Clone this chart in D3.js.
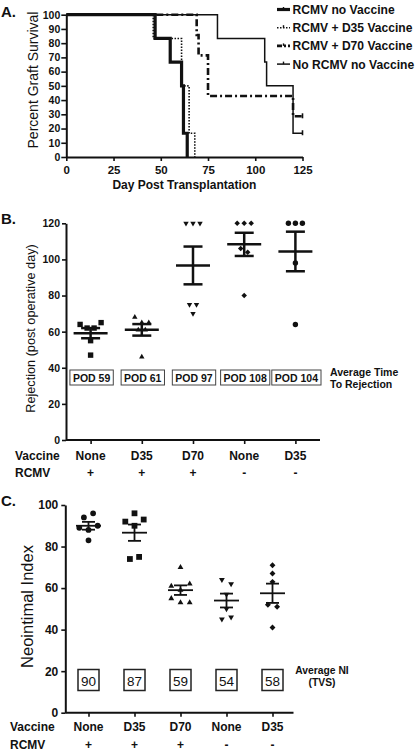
<!DOCTYPE html>
<html>
<head>
<meta charset="utf-8">
<script src="https://cdn.jsdelivr.net/npm/d3@7"></script>
<style>
  html, body { margin: 0; padding: 0; background: #fff; }
  svg { display: block; font-family: "Liberation Sans", Arial, Helvetica, sans-serif; }
</style>
</head>
<body>
<svg id="chart" width="417" height="753"></svg>
<script>
// ---------------- DATA ----------------
// Panel A: Kaplan-Meier steps [day, percent surviving]
const legendLabels = ["RCMV no Vaccine", "RCMV + D35 Vaccine", "RCMV + D70 Vaccine", "No RCMV no Vaccine"];
const kmRcmvNoVaccine = [[0,100],[47,83.3],[55,66.7],[61,50],[62,16.7],[64,0]];
const kmRcmvD35 = [[0,100],[46,83.3],[61,50],[65,16.7],[68,0]];
const kmRcmvD70 = [[0,100],[69,85.7],[70,71.4],[75,42.9],[120,28.6],[125,28.6]];
const kmNoRcmv = [[0,100],[80,83.3],[105,66.7],[106,50],[120,16.7],[125,16.7]];
const kmXTicks = [0,25,50,75,100,125];
const kmYTicks = [0,10,20,30,40,50,60,70,80,90,100];

// Shared categories for panels B and C
const vaccineLabels = ["None","D35","D70","None","D35"];
const rcmvLabels = ["+","+","+","-","-"];

// Panel B: rejection day per graft
const bRcmvNone = [64,62,62,65,55,47];
const bRcmvD35 = [68,65,65,61,61,46];
const bRcmvD70 = [120,120,120,75,75,70];
const bNoRcmvNone = [120,120,120,106,104,80];
const bNoRcmvD35 = [120,120,120,98,64];
const podLabels = ["POD 59","POD 61","POD 97","POD 108","POD 104"];
const bYTicks = [0,20,40,60,80,100,120];

// Panel C: neointimal index
const cRcmvNone = [94,96,89,88,90,83];
const cRcmvD35 = [96,92,90,93,74,75];
const cRcmvD70 = [70,61,59,62,55,53,53];
const cNoRcmvNone = [64,62,57,50,45,46];
const cNoRcmvD35 = [71,67,63,52,51,41];
const niLabels = ["90","87","59","54","58"];
const cYTicks = [0,20,40,60,80,100];

// ---------------- DRAWING ----------------
const svg = d3.select("#chart");
const INK = "#111";

function styleAxis(g, fontSize) {
  g.selectAll("path.domain").attr("stroke", INK).attr("stroke-width", 2);
  g.selectAll(".tick line").attr("stroke", INK).attr("stroke-width", 1.6);
  g.selectAll(".tick text").attr("fill", INK).attr("font-size", fontSize)
    .attr("font-weight", "bold").attr("font-family", "Liberation Sans, Arial, sans-serif");
}

function panelLabel(txt, x, y) {
  svg.append("text").attr("x", x).attr("y", y).text(txt)
    .attr("font-size", 15).attr("font-weight", "bold").attr("fill", INK);
}

// ===== Panel A =====
panelLabel("A.", 1, 17);
const xA = d3.scaleLinear().domain([0,125]).range([66.3, 302.5]);
const yA = d3.scaleLinear().domain([0,100]).range([157, 14.7]);

const gAy = svg.append("g").attr("transform", "translate(66.3,0)")
  .call(d3.axisLeft(yA).tickValues(kmYTicks).tickSize(5).tickSizeOuter(0).tickPadding(1).tickFormat(d3.format("d")));
styleAxis(gAy, 10.5);
const gAx = svg.append("g").attr("transform", "translate(0,157)")
  .call(d3.axisBottom(xA).tickValues(kmXTicks).tickSize(4).tickSizeOuter(0).tickPadding(5));
styleAxis(gAx, 11.5);

svg.append("text").attr("transform", "translate(38,80) rotate(-90)")
  .attr("text-anchor", "middle").attr("font-size", 14).attr("fill", INK).text("Percent Graft Survival");
svg.append("text").attr("x", (xA(0)+xA(125))/2).attr("y", 188.5)
  .attr("text-anchor", "middle").attr("font-size", 12).attr("font-weight", "bold").attr("fill", INK)
  .text("Day Post Transplantation");

const kmLine = d3.line().x(d => xA(d[0])).y(d => yA(d[1])).curve(d3.curveStepAfter);
const kmStyles = [
  { data: kmNoRcmv, width: 1.5, dash: null, censor: true },
  { data: kmRcmvD70, width: 2.6, dash: "7,3,2,3", censor: true },
  { data: kmRcmvD35, width: 1.6, dash: "1.5,1.5", censor: false },
  { data: kmRcmvNoVaccine, width: 3.2, dash: null, censor: false }
];
kmStyles.forEach(s => {
  svg.append("path").attr("d", kmLine(s.data)).attr("fill", "none")
    .attr("stroke", INK).attr("stroke-width", s.width)
    .attr("stroke-dasharray", s.dash);
  if (s.censor) {
    const last = s.data[s.data.length - 1];
    svg.append("line").attr("x1", xA(last[0])).attr("x2", xA(last[0]))
      .attr("y1", yA(last[1]) - 3).attr("y2", yA(last[1]) + 2)
      .attr("stroke", INK).attr("stroke-width", 1.6);
  }
});

// Legend
const legendStyles = [
  { width: 3.2, dash: null },
  { width: 1.6, dash: "1.5,1.5" },
  { width: 2.8, dash: "5,2,2,2" },
  { width: 1.5, dash: null }
];
legendLabels.forEach((lab, i) => {
  const cy = 9.5 + i * 18.2;
  svg.append("line").attr("x1", 277).attr("x2", 290).attr("y1", cy).attr("y2", cy)
    .attr("stroke", INK).attr("stroke-width", legendStyles[i].width)
    .attr("stroke-dasharray", legendStyles[i].dash);
  svg.append("line").attr("x1", 283.5).attr("x2", 283.5).attr("y1", cy - 2.5).attr("y2", cy)
    .attr("stroke", INK).attr("stroke-width", 1.4);
  svg.append("text").attr("x", 292.5).attr("y", cy + 4.4).text(lab)
    .attr("font-size", 12.1).attr("font-weight", "bold").attr("fill", INK);
});

// ===== helpers for scatter panels =====
function swarm(values, y, cx, step, minDy) {
  const pts = values.map((v, i) => ({ v, i, py: y(v) }));
  const sorted = pts.slice().sort((a, b) => a.py - b.py);
  const clusters = [];
  sorted.forEach(p => {
    const c = clusters[clusters.length - 1];
    if (c && Math.abs(p.py - c[c.length - 1].py) < minDy) c.push(p); else clusters.push([p]);
  });
  clusters.forEach(c => {
    c.sort((a, b) => a.i - b.i);
    c.forEach((p, j) => { p.px = cx + (j - (c.length - 1) / 2) * step; });
  });
  return pts;
}
function meanSem(values) {
  const m = d3.mean(values);
  const sem = d3.deviation(values) / Math.sqrt(values.length);
  return { m, sem };
}
function drawMarker(g, shape, x, y, s) {
  let sym, rot = 0, size;
  if (shape === "square") { sym = d3.symbolSquare; size = s * s; }
  else if (shape === "circle") { sym = d3.symbolCircle; size = Math.PI * (s/2) * (s/2); }
  else if (shape === "tri") { sym = d3.symbolTriangle; size = s * s * Math.sqrt(3) / 4; }
  else if (shape === "tridown") { sym = d3.symbolTriangle; size = s * s * Math.sqrt(3) / 4; rot = 180; }
  else { sym = d3.symbolSquare; size = (s * 0.72) * (s * 0.72); rot = 45; }
  g.append("path").attr("d", d3.symbol(sym, size)())
    .attr("transform", `translate(${x},${y}) rotate(${rot})`).attr("fill", INK);
}
function drawErr(g, cx, y, vals, halfMean, halfCap, w) {
  const { m, sem } = meanSem(vals);
  g.append("line").attr("x1", cx).attr("x2", cx).attr("y1", y(m + sem)).attr("y2", y(m - sem))
    .attr("stroke", INK).attr("stroke-width", w);
  [m + sem, m - sem].forEach(v => g.append("line").attr("x1", cx - halfCap).attr("x2", cx + halfCap)
    .attr("y1", y(v)).attr("y2", y(v)).attr("stroke", INK).attr("stroke-width", w));
  g.append("line").attr("x1", cx - halfMean).attr("x2", cx + halfMean).attr("y1", y(m)).attr("y2", y(m))
    .attr("stroke", INK).attr("stroke-width", w);
}
const shapes = ["square","tri","tridown","diamond","circle"];
const cShapes = ["circle","square","tri","tridown","diamond"];

// ===== Panel B =====
panelLabel("B.", 1, 224);
const catIdx = d3.range(vaccineLabels.length);
const xB = d3.scalePoint().domain(catIdx).range([65, 321]).padding(0.5);
const yB = d3.scaleLinear().domain([0,120]).range([440, 223.3]);
const bGroups = [bRcmvNone, bRcmvD35, bRcmvD70, bNoRcmvNone, bNoRcmvD35];

const gBy = svg.append("g").attr("transform", "translate(66,0)")
  .call(d3.axisLeft(yB).tickValues(bYTicks).tickSize(4).tickSizeOuter(0).tickPadding(2));
styleAxis(gBy, 10.5);
const gBx = svg.append("g").attr("transform", "translate(0,440)")
  .call(d3.axisBottom(xB).tickSize(4).tickSizeOuter(0).tickFormat(""));
styleAxis(gBx, 10);
gBx.select("path.domain").attr("d", "M66,0H320");

svg.append("text").attr("transform", "translate(34.5,328.5) rotate(-90)")
  .attr("text-anchor", "middle").attr("font-size", 12.7).attr("fill", INK).text("Rejection (post operative day)");

const gB = svg.append("g");
bGroups.forEach((vals, i) => {
  const cx = xB(i);
  swarm(vals, yB, cx, 7, 5.5).forEach(p => drawMarker(gB, shapes[i], p.px, p.py, 5.4));
  drawErr(gB, cx, yB, vals, 17, 9.5, 2.5);
});

// POD boxes
podLabels.forEach((lab, i) => {
  const cx = xB(i) + 1;
  const t = svg.append("text").attr("x", cx).attr("y", 381.5).attr("text-anchor", "middle")
    .attr("font-size", 10.5).attr("font-weight", "bold").attr("fill", INK).text(lab);
  const w = t.node().getComputedTextLength() + 6;
  svg.insert("rect", "text").attr("x", cx - w / 2).attr("y", 370).attr("width", w).attr("height", 15)
    .attr("fill", "none").attr("stroke", "#444").attr("stroke-width", 1);
});
svg.append("text").attr("x", 330).attr("y", 376).attr("font-size", 10.5).attr("font-weight", "bold")
  .attr("fill", INK).text("Average Time");
svg.append("text").attr("x", 330).attr("y", 387.5).attr("font-size", 10.5).attr("font-weight", "bold")
  .attr("fill", INK).text("To Rejection");

// category rows B
svg.append("text").attr("x", 15).attr("y", 459.5).attr("font-size", 12).attr("font-weight", "bold").attr("fill", INK).text("Vaccine");
svg.append("text").attr("x", 15).attr("y", 476.5).attr("font-size", 12).attr("font-weight", "bold").attr("fill", INK).text("RCMV");
vaccineLabels.forEach((lab, i) => {
  svg.append("text").attr("x", xB(i)).attr("y", 459.5).attr("text-anchor", "middle")
    .attr("font-size", 12).attr("font-weight", "bold").attr("fill", INK).text(lab);
  svg.append("text").attr("x", xB(i)).attr("y", 476.5).attr("text-anchor", "middle")
    .attr("font-size", 12).attr("font-weight", "bold").attr("fill", INK).text(rcmvLabels[i]);
});

// ===== Panel C =====
panelLabel("C.", 1, 506);
const xC = d3.scalePoint().domain(catIdx).range([65.5, 295.5]).padding(0.5);
const yC = d3.scaleLinear().domain([0,100]).range([712.7, 505]);
const cGroups = [cRcmvNone, cRcmvD35, cRcmvD70, cNoRcmvNone, cNoRcmvD35];

const gCy = svg.append("g").attr("transform", "translate(65.3,0)")
  .call(d3.axisLeft(yC).tickValues(cYTicks).tickSize(4).tickSizeOuter(0).tickPadding(3));
styleAxis(gCy, 12);
const gCx = svg.append("g").attr("transform", "translate(0,712.7)")
  .call(d3.axisBottom(xC).tickSize(4).tickSizeOuter(0).tickFormat(""));
styleAxis(gCx, 10);
gCx.select("path.domain").attr("d", "M65.3,0H293.5");

svg.append("text").attr("transform", "translate(33,606.5) rotate(-90)")
  .attr("text-anchor", "middle").attr("font-size", 16.5).attr("fill", INK).text("Neointimal Index");

const gC = svg.append("g");
cGroups.forEach((vals, i) => {
  const cx = xC(i);
  swarm(vals, yC, cx, 9.2, 5.5).forEach(p => drawMarker(gC, cShapes[i], p.px, p.py, 5.8));
  drawErr(gC, cx, yC, vals, 12.5, 6.5, 1.8);
});

niLabels.forEach((lab, i) => {
  const cx = xC(i);
  svg.append("rect").attr("x", cx - 10.5).attr("y", 669.5).attr("width", 21).attr("height", 21)
    .attr("fill", "none").attr("stroke", "#222").attr("stroke-width", 1.5);
  svg.append("text").attr("x", cx).attr("y", 685.5).attr("text-anchor", "middle")
    .attr("font-size", 13.5).attr("fill", INK).text(lab);
});
svg.append("text").attr("x", 322).attr("y", 674).attr("text-anchor", "middle").attr("font-size", 10.3)
  .attr("font-weight", "bold").attr("fill", INK).text("Average NI");
svg.append("text").attr("x", 322).attr("y", 685.5).attr("text-anchor", "middle").attr("font-size", 10.3)
  .attr("font-weight", "bold").attr("fill", INK).text("(TVS)");

svg.append("text").attr("x", 10).attr("y", 731).attr("font-size", 12).attr("font-weight", "bold").attr("fill", INK).text("Vaccine");
svg.append("text").attr("x", 10).attr("y", 748.5).attr("font-size", 12).attr("font-weight", "bold").attr("fill", INK).text("RCMV");
vaccineLabels.forEach((lab, i) => {
  svg.append("text").attr("x", xC(i)).attr("y", 731).attr("text-anchor", "middle")
    .attr("font-size", 12).attr("font-weight", "bold").attr("fill", INK).text(lab);
  svg.append("text").attr("x", xC(i)).attr("y", 748.5).attr("text-anchor", "middle")
    .attr("font-size", 12).attr("font-weight", "bold").attr("fill", INK).text(rcmvLabels[i]);
});
</script>
</body>
</html>
